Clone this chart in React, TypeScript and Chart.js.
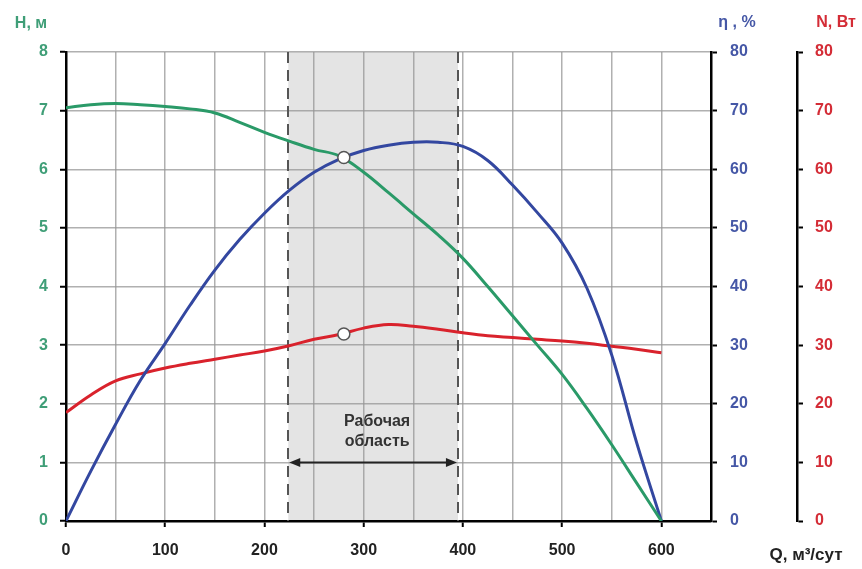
import React, { useEffect, useRef } from "react";
import { Chart, registerables } from "chart.js";

Chart.register(...registerables);

// Flow Q, m3/day (common grid for all curves)
const qGrid = [0, 25, 50, 75, 100, 125, 150, 175, 200, 225, 250, 275, 300, 325, 350, 375, 400, 425, 450, 475, 500, 525, 550, 575, 600];
// Head H, m
const headH = [7.05, 7.1, 7.12, 7.1, 7.07, 7.03, 6.96, 6.8, 6.63, 6.48, 6.34, 6.23, 5.95, 5.6, 5.24, 4.88, 4.48, 4.0, 3.5, 3.0, 2.5, 1.92, 1.3, 0.65, 0];
// Efficiency η, %
const eta = [0, 8.5, 16.5, 24, 30.3, 36.8, 42.8, 48, 52.5, 56.4, 59.5, 61.7, 63.2, 64.1, 64.6, 64.6, 63.9, 61.5, 57.3, 52.6, 47.4, 39.7, 28.3, 13.4, 0];
// Power N, W
const powerN = [18.5, 21.5, 23.9, 25.1, 26.1, 26.9, 27.6, 28.3, 29.0, 29.9, 31.0, 31.8, 32.9, 33.5, 33.2, 32.7, 32.1, 31.6, 31.3, 31.0, 30.7, 30.3, 29.8, 29.3, 28.7];

const workStart = 224;
const workEnd = 395;
const workArrowH = 1;
const workLabel = ["Рабочая", "область"];

const markerQ = 280;
const markerH = 6.2;
const markerN = 31.9;

const xTicksMax = 650;
const hMax = 8;
const etaMax = 80;
const nMax = 80;

const titleH = "H, м";
const titleEta = "η , %";
const titleN = "N, Вт";
const titleQ = "Q, м³/сут";

const GREEN = "#2a9a68";
const BLUE = "#3347a0";
const RED = "#d9222c";
const GREEN_T = "#3f9e77";
const BLUE_T = "#4557a6";
const RED_T = "#d42c36";
const FONT = "'Liberation Sans', Arial, sans-serif";

const zip = (xs: number[], ys: number[]) => xs.map((x, i) => ({ x, y: ys[i] }));

const overlay = {
  id: "overlay",
  beforeDraw(chart: any) {
    const { ctx, chartArea, scales } = chart;
    const x = scales.x;
    const x1 = x.getPixelForValue(workStart);
    const x2 = x.getPixelForValue(workEnd);
    ctx.save();
    ctx.fillStyle = "#e4e4e4";
    ctx.fillRect(x1, chartArea.top, x2 - x1, chartArea.bottom - chartArea.top);
    ctx.restore();
  },
  beforeDatasetsDraw(chart: any) {
    const { ctx, chartArea, scales } = chart;
    const x = scales.x;
    ctx.save();
    ctx.strokeStyle = "#555";
    ctx.lineWidth = 2;
    ctx.setLineDash([11, 7]);
    [workStart, workEnd].forEach((v) => {
      const px = Math.round(x.getPixelForValue(v));
      ctx.beginPath();
      ctx.moveTo(px, chartArea.top);
      ctx.lineTo(px, chartArea.bottom);
      ctx.stroke();
    });
    ctx.restore();
  },
  afterDatasetsDraw(chart: any) {
    const { ctx, scales } = chart;
    const x = scales.x;
    const yH = scales.yH;
    const x1 = x.getPixelForValue(workStart);
    const x2 = x.getPixelForValue(workEnd);
    const ya = yH.getPixelForValue(workArrowH);
    ctx.save();
    ctx.strokeStyle = "#222";
    ctx.fillStyle = "#222";
    ctx.lineWidth = 2;
    ctx.beginPath();
    ctx.moveTo(x1 + 6, ya);
    ctx.lineTo(x2 - 6, ya);
    ctx.stroke();
    const head = (tip: number, dir: number) => {
      ctx.beginPath();
      ctx.moveTo(tip, ya);
      ctx.lineTo(tip + dir * 11, ya - 4.5);
      ctx.lineTo(tip + dir * 11, ya + 4.5);
      ctx.closePath();
      ctx.fill();
    };
    head(x1 + 1, 1);
    head(x2 - 1, -1);
    ctx.font = `bold 16px ${FONT}`;
    ctx.textAlign = "center";
    ctx.textBaseline = "middle";
    ctx.fillStyle = "#333";
    const cx = (x1 + x2) / 2 + 4;
    ctx.fillText(workLabel[0], cx, 422);
    ctx.fillText(workLabel[1], cx, 442);

    // axis titles
    ctx.font = `bold 16px ${FONT}`;
    ctx.fillStyle = GREEN_T;
    ctx.fillText(titleH, 31, 24);
    ctx.fillStyle = BLUE_T;
    ctx.fillText(titleEta, 737, 23);
    ctx.fillStyle = RED_T;
    ctx.fillText(titleN, 836, 23);
    ctx.fillStyle = "#222";
    ctx.font = `bold 17px ${FONT}`;
    ctx.fillText(titleQ, 806, 555);
    ctx.restore();
  },
};

export default function App() {
  const ref = useRef<HTMLCanvasElement | null>(null);
  useEffect(() => {
    if (!ref.current) return;
    const tickFont = { family: FONT, size: 16, weight: "bold" as const };
    const curve = { borderWidth: 3, pointRadius: 0, tension: 0.4 };
    const chart = new Chart(ref.current, {
      type: "line",
      data: {
        datasets: [
          {
            label: "markers H",
            data: [{ x: markerQ, y: markerH }],
            yAxisID: "yH",
            showLine: false,
            pointRadius: 6,
            pointBackgroundColor: "#fff",
            pointBorderColor: "#555",
            pointBorderWidth: 1.5,
          },
          {
            label: "markers N",
            data: [{ x: markerQ, y: markerN }],
            yAxisID: "yN",
            showLine: false,
            pointRadius: 6,
            pointBackgroundColor: "#fff",
            pointBorderColor: "#555",
            pointBorderWidth: 1.5,
          },
          { label: "H", data: zip(qGrid, headH), yAxisID: "yH", borderColor: GREEN, ...curve },
          { label: "η", data: zip(qGrid, eta), yAxisID: "yEta", borderColor: BLUE, ...curve },
          { label: "N", data: zip(qGrid, powerN), yAxisID: "yN", borderColor: RED, ...curve },
        ],
      },
      options: {
        animation: false,
        responsive: false,
        layout: { padding: { top: 52, right: 0, bottom: 0, left: 0 } },
        plugins: { legend: { display: false }, tooltip: { enabled: false } },
        scales: {
          x: {
            type: "linear",
            min: 0,
            max: xTicksMax,
            afterFit: (s: any) => {
              s.height = 48;
            },
            border: { display: true, color: "#000", width: 2.5 },
            grid: {
              color: "rgba(150,150,150,0.75)",
              lineWidth: 1.5,
              tickLength: 6,
              tickColor: (c: any) => (c.tick && c.tick.value % 100 === 0 ? "#000" : "rgba(0,0,0,0)"),
              tickWidth: 2,
            },
            ticks: {
              stepSize: 50,
              color: "#222",
              font: tickFont,
              padding: 14,
              maxRotation: 0,
              autoSkip: false,
              callback: (v: any) => (Number(v) % 100 === 0 && Number(v) <= 600 ? String(v) : ""),
            },
          },
          yH: {
            type: "linear",
            position: "left",
            min: 0,
            max: hMax,
            afterFit: (s: any) => {
              s.width = 66;
            },
            border: { display: true, color: "#000", width: 2.5 },
            grid: {
              color: "rgba(150,150,150,0.75)",
              lineWidth: 1.5,
              tickLength: 6,
              tickColor: "#000",
              tickWidth: 2,
            },
            ticks: { stepSize: 1, color: GREEN_T, font: tickFont, padding: 12 },
          },
          yEta: {
            type: "linear",
            position: "right",
            weight: 1,
            min: 0,
            max: etaMax,
            afterFit: (s: any) => {
              s.width = 86;
            },
            border: { display: true, color: "#000", width: 2.5 },
            grid: {
              drawOnChartArea: false,
              tickLength: 6,
              tickColor: "#000",
              tickWidth: 2,
            },
            ticks: { stepSize: 10, color: BLUE_T, font: tickFont, padding: 13 },
          },
          yN: {
            type: "linear",
            position: "right",
            weight: 2,
            min: 0,
            max: nMax,
            afterFit: (s: any) => {
              s.width = 65;
            },
            border: { display: true, color: "#000", width: 2.5 },
            grid: {
              drawOnChartArea: false,
              tickLength: 6,
              tickColor: "#000",
              tickWidth: 2,
            },
            ticks: { stepSize: 10, color: RED_T, font: tickFont, padding: 12 },
          },
        },
      },
      plugins: [overlay],
    } as any);
    return () => chart.destroy();
  }, []);
  return (
    <div style={{ position: "fixed", left: 0, top: 0, width: 862, height: 569, background: "#fff" }}>
      <canvas ref={ref} width={862} height={569} style={{ width: 862, height: 569, display: "block" }} />
    </div>
  );
}
